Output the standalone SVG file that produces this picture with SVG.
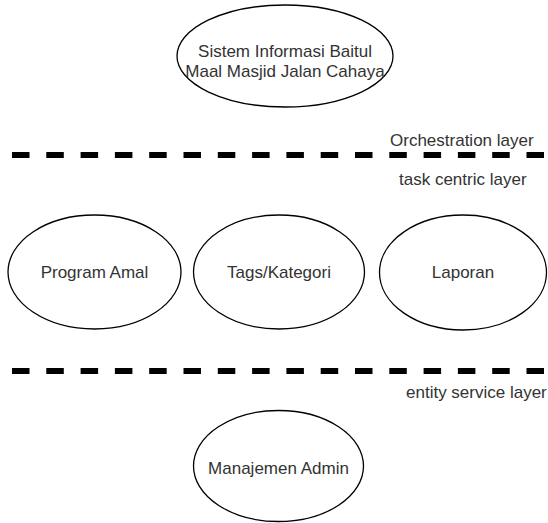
<svg xmlns="http://www.w3.org/2000/svg" width="548" height="523" viewBox="0 0 548 523">
<style>
.node ellipse{fill:#ffffff;stroke:#000000;stroke-width:1.3}
text{font-family:"Liberation Sans",Arial,sans-serif;font-size:17px;fill:#333333}
.c{text-anchor:middle}
.layer{stroke:#000000;stroke-width:6;stroke-dasharray:17.5 16.8;fill:none}
</style>
<rect width="548" height="523" fill="#ffffff"/>
<g id="connectors">
<line class="layer" x1="12" y1="155" x2="548" y2="155"/>
<line class="layer" x1="12" y1="371" x2="548" y2="371"/>
</g>
<g id="label-orchestration"><text x="390" y="146">Orchestration layer</text></g>
<g id="label-task"><text x="399" y="185">task centric layer</text></g>
<g id="label-entity"><text x="406" y="398">entity service layer</text></g>
<g id="sistem" class="node">
<ellipse cx="285" cy="56" rx="108" ry="51"/>
<text class="c" x="285" y="57">Sistem Informasi Baitul</text>
<text class="c" x="285" y="77">Maal Masjid Jalan Cahaya</text>
</g>
<g id="program-amal" class="node">
<ellipse cx="94.5" cy="272" rx="86.5" ry="57"/>
<text class="c" x="94.5" y="278">Program Amal</text>
</g>
<g id="tags-kategori" class="node">
<ellipse cx="279" cy="272" rx="85.5" ry="57"/>
<text class="c" x="279" y="278">Tags/Kategori</text>
</g>
<g id="laporan" class="node">
<ellipse cx="463" cy="272.5" rx="83.5" ry="57.5"/>
<text class="c" x="463" y="278">Laporan</text>
</g>
<g id="manajemen-admin" class="node">
<ellipse cx="278.5" cy="466" rx="85" ry="55.5"/>
<text class="c" x="278.5" y="474">Manajemen Admin</text>
</g>
</svg>
